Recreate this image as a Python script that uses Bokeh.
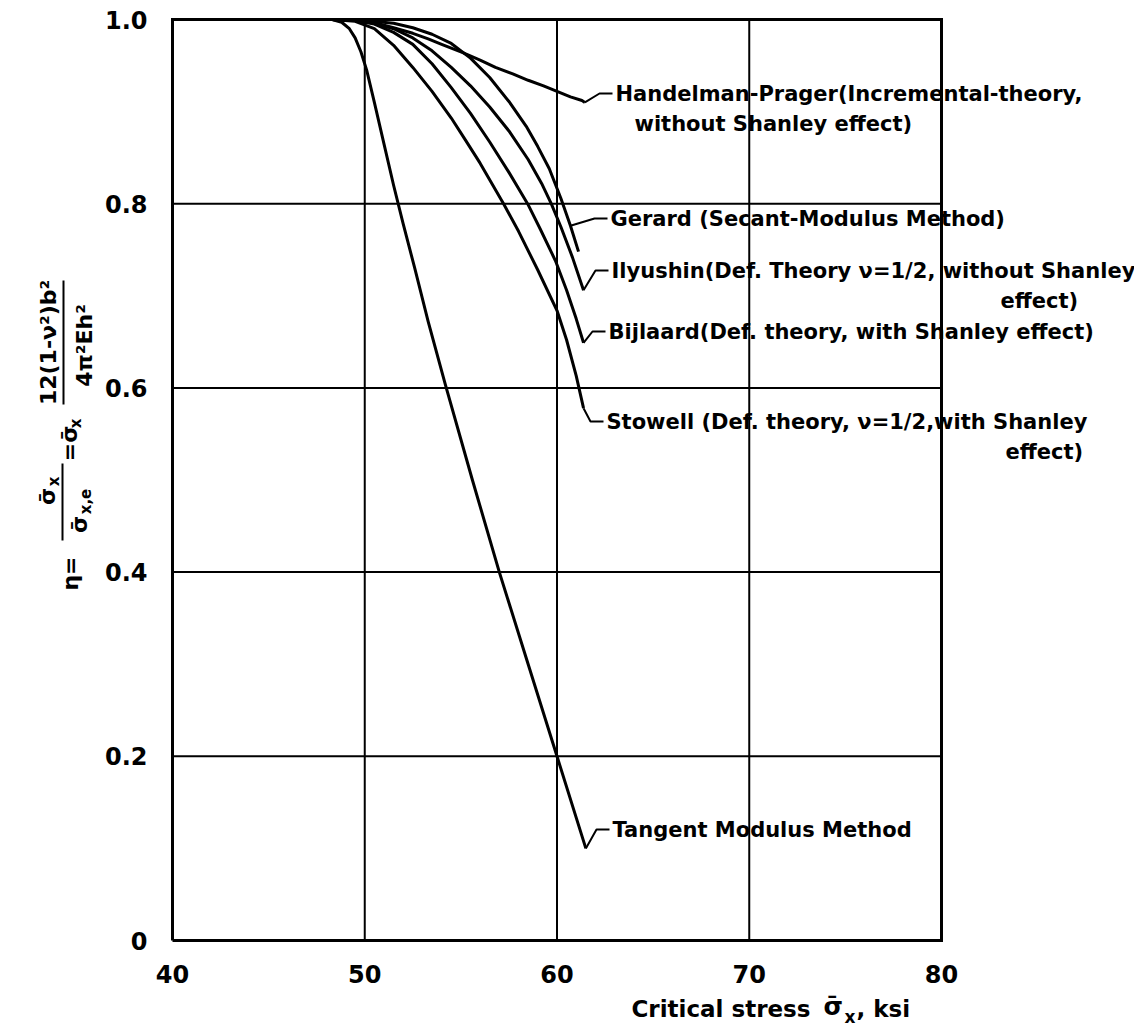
import math
from bokeh.plotting import figure
from bokeh.models import Range1d
from bokeh.core.properties import value
from bokeh.embed import file_html
from bokeh.resources import INLINE

# ---------------- data ----------------
x_ticks = [40, 50, 60, 70, 80]
x_tick_labels = ["40", "50", "60", "70", "80"]
y_ticks = [0, 0.2, 0.4, 0.6, 0.8, 1.0]
y_tick_labels = ["0", "0.2", "0.4", "0.6", "0.8", "1.0"]
x_grid = [50, 60, 70]
y_grid = [0.2, 0.4, 0.6, 0.8]

handelman_x = [48.3, 49.5, 50.6, 51.5, 52.5, 53.3, 54.0, 55.1, 56.0, 56.8, 57.7, 58.5, 59.3, 60.0, 60.7, 61.3, 61.45]
handelman_y = [1.0, 0.999, 0.996, 0.991, 0.985, 0.979, 0.973, 0.964, 0.956, 0.948, 0.941, 0.934, 0.928, 0.922, 0.916, 0.912, 0.910]

gerard_x = [48.3, 50.0, 51.5, 52.5, 53.5, 54.5, 55.5, 56.5, 57.5, 58.4, 59.0, 59.6, 60.2, 60.7, 61.12]
gerard_y = [1.0, 0.999, 0.996, 0.991, 0.984, 0.974, 0.958, 0.937, 0.911, 0.884, 0.862, 0.838, 0.806, 0.776, 0.748]

ilyushin_x = [48.3, 49.5, 50.5, 51.5, 52.5, 53.5, 54.5, 55.5, 56.5, 57.5, 58.5, 59.2, 59.7, 60.2, 60.8, 61.38]
ilyushin_y = [1.0, 0.999, 0.996, 0.990, 0.980, 0.966, 0.948, 0.928, 0.905, 0.879, 0.848, 0.822, 0.800, 0.775, 0.742, 0.706]

bijlaard_x = [48.3, 49.5, 50.5, 51.5, 52.5, 53.5, 54.5, 55.5, 56.5, 57.5, 58.47, 59.14, 59.92, 60.5, 61.0, 61.38]
bijlaard_y = [1.0, 0.999, 0.995, 0.986, 0.973, 0.952, 0.926, 0.898, 0.867, 0.834, 0.800, 0.772, 0.738, 0.706, 0.675, 0.649]

stowell_x = [48.3, 49.5, 50.5, 51.5, 52.5, 53.5, 54.5, 55.24, 56.0, 57.22, 58.0, 59.0, 60.0, 60.5, 61.0, 61.38]
stowell_y = [1.0, 0.998, 0.990, 0.972, 0.948, 0.922, 0.893, 0.869, 0.844, 0.800, 0.770, 0.728, 0.684, 0.652, 0.613, 0.578]

tangent_x = [48.3, 48.8, 49.2, 49.5, 49.8, 50.1, 50.5, 51.0, 51.5, 52.0, 52.6, 53.3, 54.2, 55.6, 57.0, 58.5, 60.0, 61.5]
tangent_y = [1.0, 0.997, 0.99, 0.98, 0.965, 0.945, 0.91, 0.865, 0.82, 0.778, 0.73, 0.672, 0.603, 0.50, 0.40, 0.30, 0.20, 0.10]

label_lines = [
    ["Handelman-Prager(Incremental-theory,", "without Shanley effect)"],
    ["Gerard (Secant-Modulus Method)"],
    ["Ilyushin(Def. Theory \u03bd=1/2, without Shanley", "effect)"],
    ["Bijlaard(Def. theory, with Shanley effect)"],
    ["Stowell (Def. theory, \u03bd=1/2,with Shanley", "effect)"],
    ["Tangent Modulus Method"],
]

SIG = "\u03c3\u0304"          # sigma with overbar

# ---------------- layout (page pixels) ----------------
W, H = 1134, 1028
FX0, FX1, FY1, FY0 = 172, 941, 19, 940   # where the 40..80 x 0..1 box sits
SX = (FX1 - FX0) / 40.0
SY = float(FY0 - FY1)


def dx(px):
    return 40 + (px - FX0) / SX


def dy(py):
    return (FY0 - py) / SY


p = figure(width=W, height=H,
           x_range=Range1d(dx(0), dx(W)), y_range=Range1d(dy(H), dy(0)),
           x_axis_location=None, y_axis_location=None,
           min_border=0, min_border_left=0, min_border_right=0,
           min_border_top=0, min_border_bottom=0,
           output_backend="svg", toolbar_location=None)
p.outline_line_color = None
p.grid.visible = False
p.background_fill_color = "white"
p.border_fill_color = "white"

FONT = value("DejaVu Sans")
BOLD = "bold"
xa, xb = x_ticks[0], x_ticks[-1]
ya, yb = y_ticks[0], y_ticks[-1]

# grid
p.segment(x0=x_grid, y0=[ya] * len(x_grid), x1=x_grid, y1=[yb] * len(x_grid),
          line_color="black", line_width=2)
p.segment(x0=[xa] * len(y_grid), y0=y_grid, x1=[xb] * len(y_grid), y1=y_grid,
          line_color="black", line_width=2)
# frame box
p.line([xa, xb, xb, xa, xa], [ya, ya, yb, yb, ya], line_color="black",
       line_width=3, line_join="miter")

# tick labels
p.text(x=x_ticks, y=[ya] * len(x_ticks), text=x_tick_labels, text_font=FONT,
       text_font_style=BOLD, text_font_size=value("24px"), text_align="center",
       text_baseline="middle", y_offset=33, text_color="black")
p.text(x=[xa] * len(y_ticks), y=y_ticks, text=y_tick_labels, text_font=FONT,
       text_font_style=BOLD, text_font_size=value("24px"), text_align="right",
       text_baseline="middle", x_offset=-25, text_color="black")

series = [(handelman_x, handelman_y), (gerard_x, gerard_y), (ilyushin_x, ilyushin_y),
          (bijlaard_x, bijlaard_y), (stowell_x, stowell_y), (tangent_x, tangent_y)]
for xs, ys in series:
    p.line(xs, ys, line_color="black", line_width=3, line_join="round")

# label anchors: (text left px, first-line centre py, leader start index, second-line left px)
label_pos = [(615, 93, -1, 634), (610, 218, -2, None), (611, 270, -1, 1000),
             (608, 331, -1, None), (606, 421, -1, 1005), (612, 829, -1, None)]
LINE_GAP = 30
LFS = value("21px")

for (xs, ys), lines, (tx, ty, li, tx2) in zip(series, label_lines, label_pos):
    sx, sy = xs[li], ys[li]
    p.line([sx, dx(tx - 16), dx(tx - 3)], [sy, dy(ty), dy(ty)], line_color="black", line_width=2)
    p.text(x=[dx(tx)], y=[dy(ty)], text=[lines[0]], text_font=FONT, text_font_style=BOLD,
           text_font_size=LFS, text_baseline="middle", text_align="left", text_color="black")
    if len(lines) > 1:
        p.text(x=[dx(tx2)], y=[dy(ty + LINE_GAP)], text=[lines[1]], text_font=FONT,
               text_font_style=BOLD, text_font_size=LFS, text_baseline="middle",
               text_align="left", text_color="black")


# ---------------- axis titles ----------------
def htext(px, py, txt, size="22px", align="left"):
    p.text(x=[dx(px)], y=[dy(py)], text=[txt], text_font=FONT, text_font_style=BOLD,
           text_font_size=value(size), text_align=align, text_baseline="middle",
           text_color="black")


htext(810, 1008, "Critical stress", size="23px", align="right")
htext(823, 1006, SIG, size="25px")
htext(844, 1016, "x", size="17px")
htext(856, 1008, ", ksi", size="23px")


def vtext(px, py, txt, size="21px"):
    p.text(x=[dx(px)], y=[dy(py)], text=[txt], angle=math.pi / 2, text_font=FONT,
           text_font_style=BOLD, text_font_size=value(size), text_align="center",
           text_baseline="middle", text_color="black")


# eta = sigma_x / sigma_x,e
vtext(70, 573, "\u03b7=", "22px")
vtext(47, 496, SIG, "22px")
vtext(53, 481, "x", "15px")
p.line([dx(62), dx(62)], [dy(463), dy(540)], line_color="black", line_width=2)
vtext(79, 524, SIG, "22px")
vtext(85, 501, "x,e", "15px")
# = sigma_x * 12(1-nu^2)b^2 / (4 pi^2 E h^2)
vtext(69, 443, "=" + SIG, "22px")
vtext(75, 423, "x", "15px")
vtext(48, 342, "12(1-\u03bd\u00b2)b\u00b2", "22px")
p.line([dx(63), dx(63)], [dy(280), dy(404)], line_color="black", line_width=2)
vtext(84, 345, "4\u03c0\u00b2Eh\u00b2", "22px")

open("out.html", "w").write(file_html(p, INLINE))
